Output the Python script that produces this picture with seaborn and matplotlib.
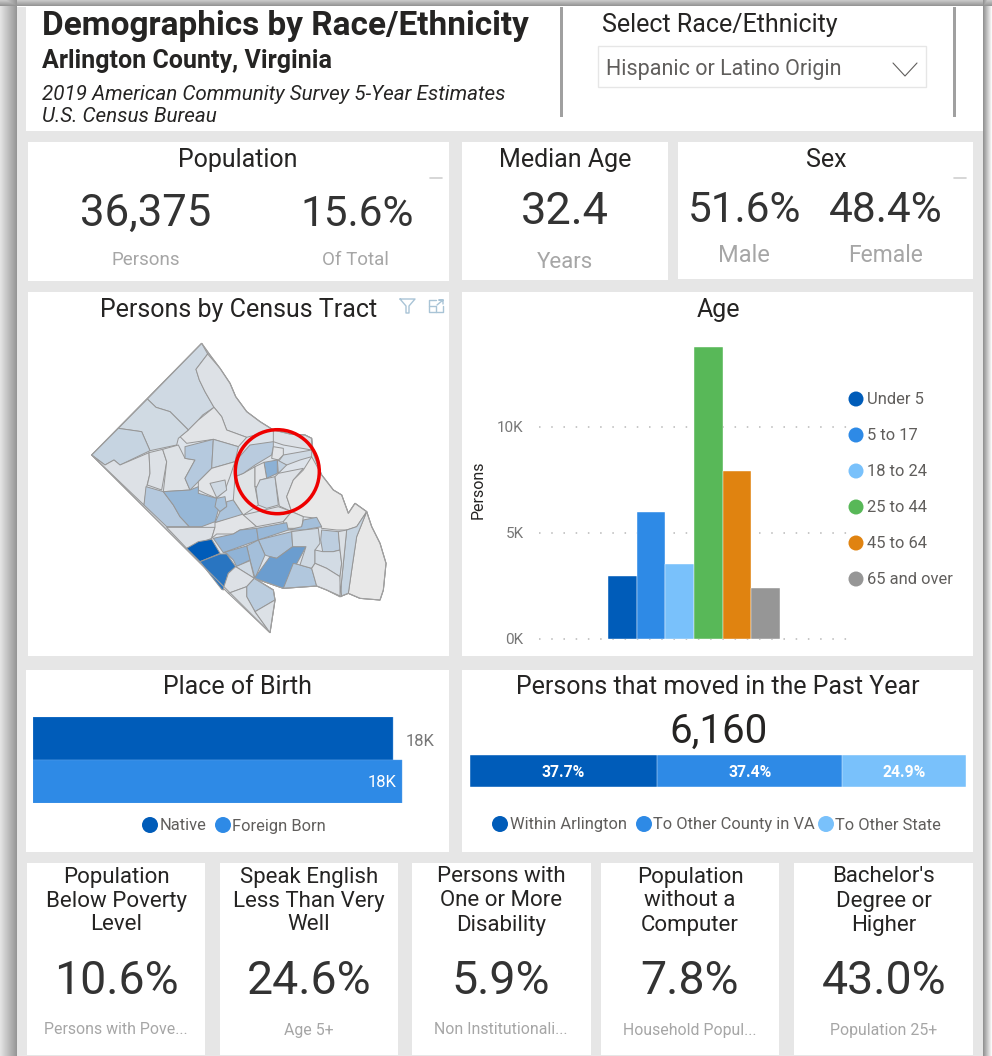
import numpy as np
import pandas as pd
import matplotlib
matplotlib.use("Agg")
import matplotlib.pyplot as plt
from matplotlib.patches import Rectangle, Circle
import seaborn as sns

# valores
age_groups = ["Under 5", "5 to 17", "18 to 24", "25 to 44", "45 to 64", "65 and over"]
age_persons = [2970, 6000, 3530, 13740, 7900, 2400]
age_colors = ["#005cb9", "#2e8ae6", "#79c1fb", "#58b858", "#e08310", "#969696"]

birth_groups = ["Native", "Foreign Born"]
birth_persons = [17960, 18415]
birth_colors = ["#005cb9", "#2e8ae6"]
birth_labels = ["18K", "18K"]

moved_groups = ["Within Arlington", "To Other County in VA", "To Other State"]
moved_share = [37.7, 37.4, 24.9]
moved_colors = ["#005cb9", "#2e8ae6", "#79c1fb"]

stat_titles = ["Population\nBelow Poverty\nLevel", "Speak English\nLess Than Very\nWell",
               "Persons with\nOne or More\nDisability", "Population\nwithout a\nComputer",
               "Bachelor's\nDegree or\nHigher"]
stat_values = ["10.6%", "24.6%", "5.9%", "7.8%", "43.0%"]
stat_notes = ["Persons with Pove...", "Age 5+", "Non Institutionali...", "Household Popul...", "Population 25+"]

# tramos censales: contorno aproximado y personas estimadas por color
tract_shapes = [
    [(395,40),(413,72),(378,118),(388,150),(405,185),(432,232),(398,255),(385,270),(355,300),(300,245),(258,232),(232,207)],
    [(413,72),(450,115),(480,160),(497,200),(530,245),(570,275),(610,300),(530,322),(470,300),(455,260),(432,232),(405,185),(388,150),(378,118)],
    [(355,300),(385,270),(432,232),(455,260),(470,300),(530,322),(505,350),(430,328),(350,340),(330,320)],
    [(232,207),(258,232),(300,245),(355,300),(325,325),(320,345),(240,362),(215,305),(145,295)],
    [(145,295),(215,305),(240,362),(150,405),(132,390),(105,405),(65,375)],
    [(65,375),(105,405),(132,390),(150,405),(237,368),(240,430),(230,470),(222,525)],
    [(237,368),(278,358),(290,395),(275,480),(232,465),(240,430)],
    [(278,358),(325,345),(345,385),(375,390),(345,445),(360,480),(280,485),(290,395)],
    [(345,350),(430,328),(425,415),(385,455),(360,480),(345,445),(375,390),(345,385)],
    [(430,328),(505,350),(495,395),(425,415)],
    [(425,415),(495,395),(480,440),(465,480),(440,505),(405,490),(385,480),(385,455)],
    [(420,460),(465,450),(470,480),(440,503)],
    [(228,470),(280,485),(310,525),(330,560),(358,590),(290,590),(222,525)],
    [(280,485),(360,480),(385,470),(385,490),(440,505),(445,540),(435,575),(395,590),(358,590),(330,560),(310,525)],
    [(440,505),(465,500),(470,530),(450,545),(435,530)],
    [(470,515),(490,510),(520,555),(435,578),(450,545),(470,530)],
    [(290,592),(435,592),(425,625),(350,655)],
    [(435,578),(520,552),(560,590),(510,600),(490,612),(440,612),(425,625),(435,592)],
    [(495,440),(520,430),(555,410),(555,470),(565,525),(520,555),(490,510)],
    [(495,395),(540,345),(610,335),(610,350),(605,375),(555,405),(520,430),(495,440)],
    [(610,350),(640,355),(640,375),(625,390),(605,385)],
    [(610,300),(660,312),(705,315),(725,325),(725,360),(640,345),(610,335)],
    [(640,375),(725,360),(725,380),(690,390),(650,405),(625,395)],
    [(582,397),(622,390),(622,430),(590,445)],
    [(622,390),(650,405),(625,430)],
    [(555,410),(582,397),(590,445),(570,450),(565,470),(555,470)],
    [(570,450),(615,440),(625,525),(590,535),(565,525),(558,475)],
    [(625,430),(700,415),(670,450),(650,500),(665,545),(628,528),(615,440)],
    [(725,380),(755,435),(790,480),(815,495),(835,550),(855,520),(890,545),(860,590),(830,600),(800,600),(755,595),(740,565),(700,560),(665,545),(650,500),(670,450),(700,420)],
    [(890,545),(905,590),(930,640),(948,700),(940,780),(930,810),(870,805),(835,790),(848,700),(860,620)],
    [(890,545),(860,620),(848,700),(835,790),(810,800),(820,700),(830,600),(860,590)],
    [(520,555),(625,530),(665,545),(640,575),(560,590)],
    [(640,575),(665,545),(700,560),(695,595),(650,595)],
    [(700,570),(740,562),(755,590),(700,600),(655,600),(695,590)],
    [(430,625),(490,612),(510,600),(560,595),(565,630),(460,668)],
    [(560,595),(650,578),(655,600),(565,630)],
    [(565,630),(665,605),(668,650),(620,685),(600,680),(585,675)],
    [(530,648),(565,630),(585,675),(555,745),(540,690)],
    [(460,668),(530,648),(540,690),(500,710),(490,690),(470,670)],
    [(600,680),(620,685),(668,650),(708,650),(640,775),(553,745)],
    [(350,655),(385,635),(425,628),(450,670),(390,695)],
    [(390,695),(450,672),(470,672),(497,710),(475,730),(460,780),(455,778)],
    [(497,710),(540,692),(553,745)],
    [(475,730),(497,710),(553,745),(530,770),(475,790),(460,775)],
    [(530,770),(553,745),(610,780),(615,810),(555,845),(530,800)],
    [(475,790),(530,770),(530,800),(555,845),(600,908)],
    [(555,845),(615,810),(600,908)],
    [(640,775),(670,700),(690,705),(725,715),(740,768)],
    [(700,600),(745,595),(750,640),(735,660),(735,700),(725,715),(690,705),(708,650),(668,650),(665,605)],
    [(755,600),(805,605),(810,660),(790,665),(758,665),(752,630)],
    [(735,660),(758,665),(790,665),(810,660),(815,700),(810,740),(770,715),(735,700)],
    [(735,700),(770,715),(810,740),(815,800),(770,780),(740,768),(725,715)],
    [(805,605),(830,600),(820,700),(810,800),(810,740),(815,700),(810,660)],
]
tract_persons = [310, 140, 90, 300, 420, 140, 140, 130, 640, 420, 90, 310, 640, 1020, 800, 750,
                 140, 90, 120, 600, 90, 140, 310, 1150, 500, 90, 310, 140, 0, 0, 420, 140,
                 120, 850, 1050, 1000, 760, 860, 1100, 1560, 2900, 2380, 310, 140, 560, 150, 150, 680,
                 310, 540, 280, 140, 160]
county_outline = [(395,40),(420,75),(450,115),(480,160),(497,200),(530,245),(570,275),(610,300),(660,312),
                  (705,315),(725,325),(730,370),(745,410),(755,435),(790,480),(815,495),(835,550),(855,520),
                  (890,545),(905,590),(930,640),(948,700),(940,780),(930,810),(870,805),(835,790),(810,800),
                  (770,780),(740,768),(640,775),(553,745),(610,780),(615,810),(600,908),(65,375)]

W, H = 992, 1056
DARK = "#252423"
VALUE = "#333333"
SOFT = "#a6a6a6"
LEGEND = "#605e5c"
TITLE = 18
NOTE = 11.9

sns.set_theme(style="white")
plt.rcParams["font.family"] = ["Roboto", "DejaVu Sans"]

fig = plt.figure(figsize=(W / 100, H / 100), dpi=100, facecolor="white")


def px_axes(left, top, right, bottom):
    a = fig.add_axes([left / W, 1 - bottom / H, (right - left) / W, (bottom - top) / H])
    a.patch.set_alpha(0)
    return a


def label(x, y, s, size, color=DARK, ha="center", **kw):
    fig.text(x / W, 1 - (y + 2) / H, s, fontsize=size, color=color, ha=ha, va="center", **kw)


# fondo con sombra y tarjetas
bg = px_axes(0, 0, W, H)
bg.set_xlim(0, W)
bg.set_ylim(H, 0)
bg.axis("off")
xs = np.arange(W) + 0.5
ys = np.arange(H) + 0.5
left_shade = np.where(xs < 17, 0.90 - 0.32 * xs / 17, 1.0)
right_shade = np.where(xs > 983, 0.55 + 0.45 * (xs - 983) / 9, 1.0)
top_shade = np.where(ys < 6.5, 0.80 - 0.25 * ys / 6.5, 1.0)
shade = np.minimum.outer(top_shade, np.minimum(left_shade, right_shade))
bg.imshow(shade, cmap="gray", vmin=0, vmax=1, extent=(0, W, H, 0), aspect="auto", zorder=0)
bg.add_patch(Rectangle((17, 7), 966, 1049, fc="#e6e6e6", ec="none", zorder=1))

cards = [(26, 7, 983, 131), (28, 142, 449, 281), (462, 142, 668, 280), (678, 142, 973, 279),
         (28, 292, 449, 656), (462, 292, 973, 656), (26, 670, 449, 852), (462, 670, 973, 852),
         (27, 863, 205, 1055), (220, 863, 398, 1055), (412, 863, 591, 1055), (601, 863, 779, 1055),
         (794, 863, 973, 1055)]
for x0, y0, x1, y1 in cards:
    bg.add_patch(Rectangle((x0, y0), x1 - x0, y1 - y0, fc="white", ec="none", zorder=2))

# cabecera
for sx in [561, 954]:
    bg.add_patch(Rectangle((sx - 1.5, 7), 3, 110, fc="#a0a0a0", ec="none", zorder=3))
bg.add_patch(Rectangle((598, 46), 328, 41, fc="white", ec="#e6e6e6", lw=1, zorder=3))
bg.plot([893, 905, 917], [63, 76, 63], color="#605e5c", lw=0.8, zorder=4)
label(42, 24, "Demographics by Race/Ethnicity", 24, ha="left", fontweight="bold")
label(42, 59, "Arlington County, Virginia", 18, ha="left", fontweight="bold")
label(42, 92, "2019 American Community Survey 5-Year Estimates", 14.9, ha="left", style="italic")
label(42, 114, "U.S. Census Bureau", 14.9, ha="left", style="italic")
label(602, 23, "Select Race/Ethnicity", 18, ha="left")
label(606, 67, "Hispanic or Latino Origin", 15.5, color=LEGEND, ha="left")

# tarjetas de arriba
label(238, 158, "Population", TITLE)
label(146, 212, "36,375", 31.5, color=VALUE)
label(357, 212, "15.6%", 30.5, color=VALUE)
label(146, 258, "Persons", 13.5, color=SOFT)
label(355, 258, "Of Total", 13.5, color=SOFT)
label(565, 158, "Median Age", TITLE)
label(565, 210, "32.4", 32.5, color=VALUE)
label(565, 261, "Years", 16, color=SOFT)
label(826, 158, "Sex", TITLE)
label(745, 208, "51.6%", 30.5, color=VALUE)
label(886, 208, "48.4%", 30.5, color=VALUE)
label(744, 254, "Male", 17, color=SOFT)
label(886, 254, "Female", 16.5, color=SOFT)
for dx in [(430, 442), (954, 966)]:
    bg.plot(dx, [178, 178], color="#d0d0d0", lw=1.2, zorder=3)

# mapa
label(239, 308, "Persons by Census Tract", TITLE)
icon = "#a9c4d6"
bg.plot([400, 415, 409, 409, 406, 406, 400], [299, 299, 306, 313, 313, 306, 299], color=icon, lw=1, zorder=3)
bg.plot([436, 429, 429, 443, 443], [300, 300, 312, 312, 306], color=icon, lw=1, zorder=3)
bg.plot([429, 436, 436], [306, 306, 312], color=icon, lw=1, zorder=3)
bg.plot([437, 443, 439, 443, 443], [305, 300, 300, 300, 304], color=icon, lw=1, zorder=3)

ax_map = px_axes(70, 330, 410, 640)
ax_map.set_xlim(0, 1020)
ax_map.set_ylim(930, 0)
ax_map.axis("off")
tract_cmap = sns.color_palette("blend:#e8e8e8,#005cb9", as_cmap=True)
ax_map.fill(*zip(*county_outline), fc="#dde3ea", ec="#999999", lw=0.8)
for shape, persons in zip(tract_shapes, tract_persons):
    ax_map.fill(*zip(*shape), fc=tract_cmap(persons / 2900), ec="#969696", lw=0.7, joinstyle="round")
ax_map.fill(*zip(*county_outline), fc="none", ec="#a0a0a0", lw=0.8)
bg.set_zorder(0)
ax_map.set_zorder(1)
# capa de circulos: anillo rojo y leyendas
ax_ring = px_axes(0, 0, W, H)
ax_ring.set_xlim(0, W)
ax_ring.set_ylim(H, 0)
ax_ring.axis("off")
ax_ring.add_patch(Circle((277.3, 471.7), 42, fc="none", ec="#ee0000", lw=2.5))
ax_ring.set_zorder(2)

# edad
label(718, 308, "Age", TITLE)
age_df = pd.DataFrame({"group": [""] * 6, "age": age_groups, "persons": age_persons})
ax_age = px_axes(539, 331, 849, 639)
sns.barplot(data=age_df, x="group", y="persons", hue="age", hue_order=age_groups, palette=age_colors,
            width=0.553, gap=0, saturation=1, legend=False, ax=ax_age, edgecolor="#ffffff", linewidth=0.3)
ax_age.set_xlim(-0.5, 0.5)
ax_age.set_ylim(0, 14500)
ax_age.set_yticks([0, 5000, 10000], ["0K", "5K", "10K"])
ax_age.tick_params(axis="y", length=0, pad=11, labelsize=11, labelcolor="#777777")
ax_age.tick_params(axis="x", length=0, labelbottom=False)
ax_age.set_xlabel("")
ax_age.set_ylabel("")
ax_age.yaxis.grid(True, color="#b8b8b8", lw=1.1, linestyle=(0, (1, 7)))
for g in ax_age.get_ygridlines():
    g.set_clip_on(False)
ax_age.set_axisbelow(True)
sns.despine(ax=ax_age, left=True, bottom=True)
ax_age.set_zorder(3)
label(478, 488, "Persons", 11.5, color=DARK, rotation=90)
for name, color, ly in zip(age_groups, age_colors, [399, 435, 471, 507, 543, 579]):
    ax_ring.add_patch(Circle((856, ly), 7.5, fc=color, ec="none"))
    label(867, ly - 1, name, NOTE, color=LEGEND, ha="left")

# lugar de nacimiento
label(237, 685, "Place of Birth", TITLE)
ax_birth = px_axes(33, 717, 434, 803)
sns.barplot(y=birth_groups, x=birth_persons, hue=birth_groups, palette=birth_colors, width=1, saturation=1,
            legend=False, ax=ax_birth, edgecolor="#5a9fe6", linewidth=0.3)
ax_birth.set_xlim(0, 20010)
ax_birth.set_ylim(1.5, -0.5)
ax_birth.axis("off")
out_lab = ax_birth.bar_label(ax_birth.containers[0], labels=birth_labels[:1], padding=9, fontsize=12, color="#777777")
in_lab = ax_birth.bar_label(ax_birth.containers[1], labels=birth_labels[1:], padding=-25, fontsize=12, color="white")
out_lab[0].xyann = (9, -2)
in_lab[0].xyann = (-25, -1)
ax_birth.set_zorder(3)
for name, color, cx, tx in zip(birth_groups, birth_colors, [150, 223], [160, 232]):
    ax_ring.add_patch(Circle((cx, 825), 8, fc=color, ec="none"))
    label(tx, 824, name, NOTE, color=LEGEND, ha="left")

# mudanzas, barras acumuladas dibujadas de la mas larga a la mas corta
label(718, 685, "Persons that moved in the Past Year", TITLE)
label(718, 729, "6,160", 29)
ax_moved = px_axes(470, 755, 966, 787)
moved_end = np.cumsum(moved_share)
for end, color in list(zip(moved_end, moved_colors))[::-1]:
    sns.barplot(x=[end], y=["moved"], color=color, width=1, saturation=1, ax=ax_moved,
                edgecolor="#ffffff", linewidth=0.3)
ax_moved.set_xlim(0, 100)
ax_moved.set_ylim(0.5, -0.5)
ax_moved.axis("off")
ax_moved.set_zorder(3)
starts = moved_end - np.array(moved_share)
for st, share in zip(starts, moved_share):
    ax_moved.text(st + share / 2, 0.06, f"{share}%", ha="center", va="center", color="white", fontsize=11.3,
                  fontweight="bold")
for name, color, cx, tx in zip(moved_groups, moved_colors, [500, 644, 826], [510, 653, 835]):
    ax_ring.add_patch(Circle((cx, 824), 8, fc=color, ec="none"))
    label(tx, 823, name, NOTE, color=LEGEND, ha="left")

# fila inferior
for cx, title, value, note in zip([116, 309, 501, 690, 884], stat_titles, stat_values, stat_notes):
    for row, line in zip([876, 900, 924], title.split("\n")):
        label(cx, row - 1, line, 16)
    label(cx, 979, value, 33.5, color=VALUE)
    label(cx, 1028, note, 11.4, color=SOFT)

fig.savefig("out.png", dpi=100)
